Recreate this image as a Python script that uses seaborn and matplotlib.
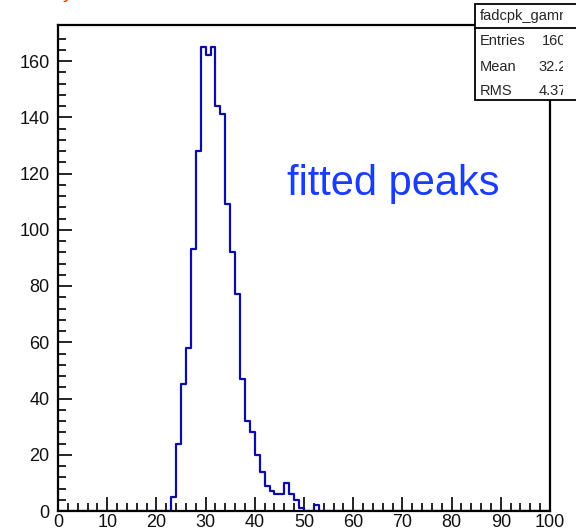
import numpy as np
import pandas as pd
import matplotlib
matplotlib.use("Agg")
import matplotlib.pyplot as plt
from matplotlib.patches import Rectangle
from matplotlib.lines import Line2D
from matplotlib.transforms import Bbox
import seaborn as sns

# Peak-position histogram: 100 bins of width 1 from 0 to 100
n_bins = 100
x_range = (0, 100)
filled_bins = [23, 24, 25, 26, 27, 28, 29, 30, 31, 32, 33, 34, 35, 36, 37,
               38, 39, 40, 41, 42, 43, 44, 45, 46, 47, 48, 49, 52]
filled_counts = [5, 24, 45, 58, 93, 128, 165, 162, 165, 144, 141, 109, 92, 77, 47,
                 32, 28, 20, 14, 9, 7, 6, 6, 10, 6, 4, 1, 2]

hist_name = "fadcpk_gamma"
label_text = "fitted peaks"
x_ticks = [0, 10, 20, 30, 40, 50, 60, 70, 80, 90, 100]
y_ticks = [0, 20, 40, 60, 80, 100, 120, 140, 160]

counts = np.zeros(n_bins)
counts[filled_bins] = filled_counts
centers = np.arange(n_bins) + 0.5
df = pd.DataFrame({"peak": centers, "n": counts})

sns.set_theme(style="white")
plt.rcParams["font.family"] = ["Liberation Sans", "DejaVu Sans"]

W, H, DPI = 576, 532, 100
fig = plt.figure(figsize=(W / DPI, H / DPI), dpi=DPI)
ax = fig.add_axes([58 / W, 21 / H, 492 / W, 486 / H])

sns.histplot(data=df, x="peak", weights="n", bins=n_bins, binrange=x_range,
             element="step", fill=False, color="#0c0ca6", linewidth=1.6, ax=ax)

ax.set_xlim(*x_range)
ax.set_ylim(0, 172.8)
ax.set_xlabel("")
ax.set_ylabel("")
ax.set_xticks(x_ticks)
ax.set_yticks(y_ticks)
ax.set_xticks(np.arange(0, 101, 2), minor=True)
ax.set_yticks(np.arange(0, 172, 4), minor=True)
ax.tick_params(axis="both", which="major", direction="in", length=10, width=1.2,
               color="black", labelsize=13, labelcolor="#111111")
ax.tick_params(axis="both", which="minor", direction="in", length=5.5, width=1.2,
               color="black")
ax.tick_params(axis="x", which="both", pad=2, bottom=True)
ax.tick_params(axis="y", which="both", pad=6, left=True)
for s in ax.spines.values():
    s.set_linewidth(1.6)
    s.set_color("black")
    s.set_zorder(5)
ax.grid(False)

ax.text(0.4654, 0.672, label_text, transform=ax.transAxes, fontsize=30,
        color="#1a3cff", ha="left", va="center")

# Title, mostly above the canvas
fig.text(63 / W, 1 + 2 / H, "y", color="#ff2200", fontsize=14,
         ha="left", va="baseline")

# Statistics box in the top-right corner
def fx(px):
    return px / W

def fy(py):
    return 1 - py / H

box = Rectangle((fx(475), fy(100)), fx(640) - fx(475), fy(4) - fy(100),
                transform=fig.transFigure, facecolor="white", edgecolor="black",
                linewidth=1.3, zorder=10)
fig.add_artist(box)
fig.add_artist(Line2D([fx(475), fx(640)], [fy(28), fy(28)],
                      transform=fig.transFigure, color="black", lw=1.3, zorder=11))

entries = int(counts.sum())
mean = float((centers * counts).sum() / counts.sum())
rms = float(np.sqrt((counts * (centers - mean) ** 2).sum() / counts.sum()))

clip = Bbox.from_extents(475, 0, 563, H)
rows = [("Entries", f"{entries:d}", 41),
        ("Mean", f"{mean:.4g}", 67),
        ("RMS", f"{rms:.4g}", 91)]
items = [fig.text(fx(480), fy(16), hist_name, fontsize=10.5, ha="left",
                  va="center", zorder=12)]
for name, val, py in rows:
    items.append(fig.text(fx(480), fy(py), name, fontsize=10.5, ha="left",
                          va="center", zorder=12))
    items.append(fig.text(fx(575), fy(py), val, fontsize=10.5, ha="right",
                          va="center", zorder=12))
for t in items:
    t.set_clip_box(clip)
    t.set_clip_on(True)

fig.savefig("out.png", dpi=DPI, facecolor="white")
